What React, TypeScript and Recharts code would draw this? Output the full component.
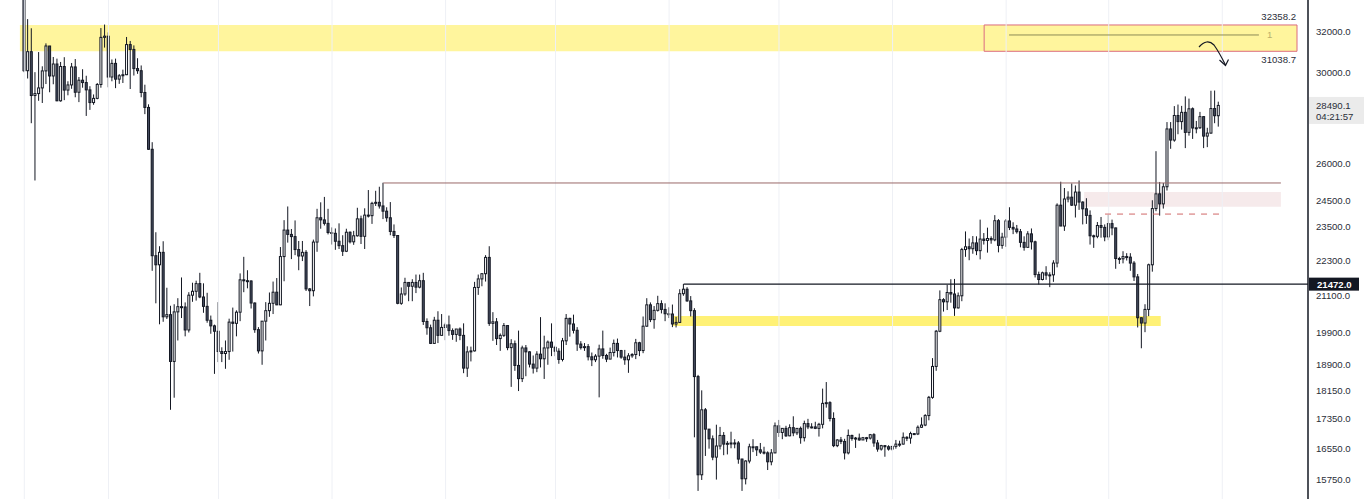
import React from 'react';
import { ComposedChart, Bar, XAxis, YAxis, ReferenceLine, ReferenceArea } from 'recharts';

type Ohlc = [number, number, number, number];

// daily candles, open / high / low / close, one array per month (May 9 2022 onwards)
const may22: Ohlc[] = [
  [34060, 34240, 30030, 30100], [30100, 32660, 29730, 31020], [31020, 32190, 27700, 28940], [28940, 30030, 25300, 29030],
  [29030, 31000, 28700, 29290], [29290, 30310, 28600, 30090], [30090, 31430, 29470, 31300], [31300, 31300, 29090, 29850],
  [29850, 30760, 29460, 30420], [30420, 30680, 28680, 28700], [28700, 30520, 28660, 30300], [30300, 30750, 28730, 29190],
  [29190, 29600, 28950, 29430], [29430, 30470, 29250, 30280], [30280, 30660, 28860, 29090], [29090, 29800, 28640, 29650],
  [29650, 30170, 29300, 29540], [29540, 29860, 28020, 29200], [29200, 29370, 28290, 28620], [28620, 28990, 28520, 28810],
  [28810, 29520, 28770, 29450], [29450, 32200, 29300, 31730], [31730, 32380, 31220, 31790],
];
const jun22: Ohlc[] = [
  [31790, 31980, 29320, 29800], [29800, 30640, 29600, 30450], [30450, 30680, 29280, 29700], [29700, 29940, 29480, 29860],
  [29860, 30150, 29520, 29910], [29910, 31750, 29890, 31370], [31370, 31550, 29240, 31130], [31130, 31330, 29870, 30200],
  [30200, 30700, 29950, 30100], [30100, 30350, 28860, 29080], [29080, 29440, 28100, 28400], [28400, 28540, 26560, 26580],
  [26580, 26880, 21930, 22460], [22460, 23310, 20830, 22140], [22140, 22800, 20150, 22580], [22580, 22980, 20230, 20390],
  [20390, 21350, 20320, 20460], [20460, 20750, 17600, 19000], [19000, 20800, 17940, 20550], [20550, 21000, 19640, 20720],
  [20720, 21700, 20350, 20710], [20710, 20860, 19770, 19970], [19970, 21200, 19890, 21100], [21100, 21520, 20880, 21230],
  [21230, 21590, 20920, 21490], [21490, 21860, 21000, 21040], [21040, 21500, 20520, 20730], [20730, 21180, 20200, 20280],
  [20280, 20430, 19850, 20100], [20100, 20140, 18630, 19930],
];
const jul22: Ohlc[] = [
  [19930, 20870, 18980, 19300], [19300, 19430, 18980, 19240], [19240, 19640, 18780, 19300], [19300, 20330, 19050, 20220],
  [20220, 20690, 19300, 20180], [20180, 20600, 19770, 20540], [20540, 21840, 20250, 21620], [21620, 22420, 21200, 21590],
  [21590, 21950, 21330, 21580], [21580, 21600, 20660, 20840], [20840, 20860, 19880, 19980], [19980, 20060, 19240, 19320],
  [19320, 20250, 18900, 20250], [20250, 20870, 19640, 20590], [20590, 21190, 20390, 20830], [20830, 21560, 20480, 21200],
  [21200, 21680, 20770, 20780], [20780, 22770, 20770, 22430], [22430, 23760, 21570, 23390], [23390, 24280, 22930, 23230],
  [23230, 23430, 22340, 23150], [23150, 23750, 22480, 22680], [22680, 22990, 21950, 22450], [22450, 22990, 22270, 22580],
  [22580, 22660, 21240, 21310], [21310, 21340, 20740, 21250], [21250, 23040, 21060, 22950], [22950, 24190, 22600, 23850],
  [23850, 24440, 23440, 23770], [23770, 24650, 23560, 23640], [23640, 24190, 23230, 23300],
];
const aug22: Ohlc[] = [
  [23300, 23490, 22860, 23270], [23270, 23450, 22670, 22980], [22980, 23640, 22700, 22820], [22820, 23200, 22450, 22620],
  [22620, 23440, 22590, 23310], [23310, 23340, 22900, 22960], [22960, 23360, 22850, 23180], [23180, 24230, 23150, 23810],
  [23810, 23930, 22880, 23160], [23160, 24210, 22700, 23950], [23950, 24920, 23860, 23930], [23930, 24460, 23620, 24400],
  [24400, 24890, 24300, 24440], [24440, 25050, 24200, 24300], [24300, 25210, 23800, 24100], [24100, 24250, 23700, 23850],
  [23850, 24450, 23200, 23340], [23340, 23600, 23100, 23190], [23190, 23200, 20800, 20830], [20830, 21360, 20780, 21140],
  [21140, 21690, 21080, 21530], [21530, 21530, 20900, 21400], [21400, 21640, 20900, 21530], [21530, 21800, 21170, 21370],
  [21370, 21800, 21330, 21590], [21590, 21860, 20130, 20240], [20240, 20340, 19820, 20040], [20040, 20140, 19530, 19550],
  [19550, 20390, 19550, 20280], [20280, 20570, 19560, 19800], [19800, 20480, 19800, 20050],
];
const sep22: Ohlc[] = [
  [20050, 20200, 19650, 20130], [20130, 20430, 19790, 19950], [19950, 20020, 19660, 19830], [19830, 20000, 19600, 20000],
  [20000, 20050, 19650, 19800], [19800, 20180, 18650, 18800], [18800, 19460, 18540, 19290], [19290, 19450, 19000, 19320],
  [19320, 21550, 19300, 21360], [21360, 21800, 21110, 21650], [21650, 21850, 21400, 21830], [21830, 22480, 21560, 22400],
  [22400, 22800, 20100, 20180], [20180, 20540, 19630, 20230], [20230, 20350, 19500, 19700], [19700, 19860, 19320, 19800],
  [19800, 20190, 19750, 20110], [20110, 20110, 19340, 19420], [19420, 19680, 18250, 19540], [19540, 19640, 18720, 18880],
  [18880, 19950, 18130, 18490], [18490, 19480, 18390, 19410], [19410, 19500, 18560, 19290], [19290, 19310, 18820, 18920],
  [18920, 19180, 18640, 18800], [18800, 19310, 18680, 19220], [19220, 20380, 18820, 19080], [19080, 19790, 18480, 19410],
  [19410, 19640, 18900, 19590], [19590, 20180, 19160, 19430],
];
const oct22: Ohlc[] = [
  [19430, 19480, 19160, 19310], [19310, 19400, 18930, 19060], [19060, 19720, 19000, 19630], [19630, 20480, 19500, 20340],
  [20340, 20360, 19760, 20160], [20160, 20460, 19860, 19960], [19960, 20060, 19320, 19530], [19530, 19620, 19360, 19420],
  [19420, 19560, 19320, 19450], [19450, 19530, 19030, 19140], [19140, 19270, 18860, 19050], [19050, 19220, 18980, 19160],
  [19160, 19510, 17950, 19380], [19380, 19950, 19080, 19180], [19180, 19230, 18980, 19070], [19070, 19420, 19070, 19270],
  [19270, 19670, 19150, 19550], [19550, 19700, 19120, 19330], [19330, 19350, 19080, 19130], [19130, 19350, 18900, 19050],
  [19050, 19250, 18660, 19170], [19170, 19250, 19110, 19210], [19210, 19690, 19070, 19570], [19570, 19600, 19160, 19330],
  [19330, 20400, 19250, 20090], [20090, 21000, 20070, 20780], [20780, 20860, 20220, 20300], [20300, 20740, 20010, 20600],
  [20600, 21080, 20560, 20820], [20820, 20930, 20500, 20630], [20630, 20830, 20250, 20490],
];
const nov22: Ohlc[] = [
  [20490, 20700, 20350, 20480], [20480, 20790, 20060, 20160], [20160, 20390, 20050, 20210], [20210, 21300, 20190, 21150],
  [21150, 21480, 21080, 21300], [21300, 21370, 20880, 20910], [20910, 21070, 20400, 20590], [20590, 20670, 16850, 18550],
  [18550, 18600, 15480, 15880], [15880, 18150, 15750, 17600], [17600, 17650, 16360, 17070], [17070, 17070, 16550, 16810],
  [16810, 16900, 16250, 16330], [16330, 17190, 15760, 16620], [16620, 17130, 16530, 16900], [16900, 16990, 16380, 16670],
  [16670, 16750, 16400, 16690], [16690, 17000, 16560, 16700], [16700, 16800, 16560, 16700], [16700, 16750, 16160, 16280],
  [16280, 16290, 15480, 15780], [15780, 16250, 15640, 16230], [16230, 16680, 16170, 16600], [16600, 16800, 16460, 16600],
  [16600, 16600, 16360, 16520], [16520, 16700, 16410, 16460], [16460, 16600, 16400, 16440], [16440, 16480, 16000, 16210],
  [16210, 16540, 16120, 16440], [16440, 17250, 16430, 17160],
];
const dec22: Ohlc[] = [
  [17160, 17320, 16860, 16980], [16980, 17100, 16800, 17090], [17090, 17160, 16860, 16890], [16890, 17200, 16880, 17110],
  [17110, 17420, 16880, 16970], [16970, 17100, 16910, 17090], [17090, 17140, 16680, 16840], [16840, 17300, 16740, 17220],
  [17220, 17350, 17070, 17130], [17130, 17230, 17090, 17130], [17130, 17270, 17070, 17090], [17090, 17240, 16870, 17200],
  [17200, 18200, 17090, 17780], [17780, 18390, 17660, 17800], [17800, 17840, 17280, 17360], [17360, 17530, 16590, 16630],
  [16630, 16800, 16590, 16780], [16780, 16860, 16670, 16740], [16740, 16810, 16270, 16440], [16440, 17060, 16400, 16900],
  [16900, 16920, 16760, 16820], [16820, 16860, 16570, 16830], [16830, 16950, 16760, 16780], [16780, 16860, 16780, 16840],
  [16840, 16860, 16730, 16830], [16830, 16940, 16790, 16920], [16920, 16960, 16600, 16700], [16700, 16780, 16470, 16540],
  [16540, 16650, 16500, 16630], [16630, 16640, 16340, 16600], [16600, 16640, 16500, 16540],
];
const jan23: Ohlc[] = [
  [16540, 16620, 16500, 16610], [16610, 16780, 16550, 16670], [16670, 16760, 16600, 16670], [16670, 16980, 16660, 16850],
  [16850, 16880, 16750, 16830], [16830, 17000, 16680, 16950], [16950, 16960, 16910, 16940], [16940, 17170, 16910, 17120],
  [17120, 17390, 17100, 17180], [17180, 17480, 17150, 17440], [17440, 17990, 17310, 17950], [17950, 19100, 17910, 18850],
  [18850, 19970, 18720, 19930], [19930, 21260, 19900, 20950], [20950, 21000, 20560, 20880], [20880, 21450, 20610, 21190],
  [21190, 21640, 20850, 21140], [21140, 21650, 20420, 20680], [20680, 21190, 20660, 21080], [21080, 22740, 20900, 22680],
  [22680, 23340, 22420, 22780], [22780, 23080, 22300, 22710], [22710, 23170, 22530, 22920], [22920, 23160, 22480, 22640],
  [22640, 23780, 22330, 23060], [23060, 23280, 22860, 23010], [23010, 23480, 22570, 23080], [23080, 23160, 22890, 23030],
  [23030, 23950, 22980, 23740], [23740, 23800, 22580, 22830], [22830, 23290, 22710, 23130],
];
const feb23: Ohlc[] = [
  [23130, 23800, 22780, 23730], [23730, 24250, 23390, 23490], [23490, 23680, 23240, 23430], [23430, 23580, 23260, 23330],
  [23330, 23430, 22760, 22940], [22940, 23160, 22640, 22760], [22760, 23350, 22750, 23250], [23250, 23450, 22680, 22960],
  [22960, 23000, 21700, 21800], [21800, 21900, 21460, 21630], [21630, 21900, 21600, 21860], [21860, 22090, 21620, 21780],
  [21780, 21880, 21370, 21790], [21790, 22300, 21550, 22200], [22200, 24400, 22050, 24330], [24330, 25250, 23540, 23540],
  [23540, 25000, 23360, 24570], [24570, 24870, 24440, 24640], [24640, 25180, 24300, 24330], [24330, 25100, 23860, 24840],
  [24840, 25300, 24150, 24450], [24450, 24480, 23600, 24190], [24190, 24600, 23620, 23940], [23940, 24130, 22860, 23180],
  [23180, 23220, 22740, 23160], [23160, 23690, 23090, 23560], [23560, 23880, 23110, 23490], [23490, 23600, 22980, 23140],
];
const mar23: Ohlc[] = [
  [23140, 23960, 23020, 23630], [23630, 23780, 23200, 23470], [23470, 23480, 22000, 22360], [22360, 22420, 22170, 22350],
  [22350, 22620, 22190, 22430], [22430, 22550, 22290, 22410], [22410, 22550, 21930, 22200], [22200, 22270, 21580, 21720],
  [21720, 21820, 20050, 20360], [20360, 20370, 19400, 20190], [20190, 20800, 19900, 20630], [20630, 22180, 20410, 22140],
  [22140, 24520, 21900, 24200], [24200, 26500, 24100, 24770], [24770, 25240, 23930, 24380], [24380, 25200, 24200, 25050],
  [25050, 27750, 24900, 27450], [27450, 27750, 26600, 26970], [26970, 28460, 26900, 28040], [28040, 28530, 27220, 27770],
  [27770, 28470, 27420, 28180], [28180, 28900, 26630, 27300], [27300, 28800, 27160, 28340], [28340, 28400, 27020, 27490],
  [27490, 27800, 27260, 27500], [27500, 28200, 27450, 27990], [27990, 28000, 26630, 27140], [27140, 27500, 26670, 27270],
  [27270, 29160, 27240, 28350], [28350, 29170, 27700, 28030], [28030, 28660, 27550, 28490.1],
];

const months = [may22, jun22, jul22, aug22, sep22, oct22, nov22, dec22, jan23, feb23, mar23];

// right price scale
const priceTicks = [32000, 30000, 26000, 24500, 23500, 22300, 21100, 19900, 18900, 18150, 17350, 16550, 15750];
const lastPrice = 28490.1;
const countdown = '04:21:57';
const markedLevel = 21472;

// drawn levels
const topZone = [31038.7, 32358.2];
const boxMid = 31850;
const rangeHigh = 25200;
const supplyZone = [24268, 24843];
const dashedLevel = 23990;
const demandZone = [20097, 20416];

const candles = months.flat().map(([open, high, low, close], i) => ({ i, open, high, low, close, range: [low, high] }));

const monthStarts = months.reduce<number[]>((acc, m) => [...acc, acc[acc.length - 1] + m.length], [0]);

const INK = '#131722';
const BEAR = '#464d60';
const FONT = '"Liberation Sans", Arial, sans-serif';

const Candle = (props: any) => {
  const { x, y, width, height, payload } = props;
  if (!payload) return null;
  const { open, high, low, close } = payload;
  const cx = x + width / 2;
  const top = Math.min(y, y + height);
  const bottom = Math.max(y, y + height);
  const span = Math.log(high) - Math.log(low);
  const toY = (v: number) => (span === 0 ? top : top + ((Math.log(high) - Math.log(v)) / span) * (bottom - top));
  const yo = toY(open);
  const yc = toY(close);
  const bodyTop = Math.min(yo, yc);
  const bodyH = Math.max(Math.abs(yo - yc), 1);
  const up = close >= open;
  return (
    <g>
      <line x1={cx} x2={cx} y1={top} y2={bottom} stroke={INK} strokeWidth={1} />
      <rect x={cx - 1} y={bodyTop} width={2} height={bodyH} fill={up ? '#ffffff' : BEAR} stroke={INK} strokeWidth={1} />
    </g>
  );
};

const PriceTick = (props: any) => {
  const { x, y, payload } = props;
  const v = payload.value as number;
  const common = { fontFamily: FONT, fontSize: 9.6 };
  if (v === lastPrice) {
    return (
      <g>
        <rect x={x - 7} y={y - 8.5} width={56} height={27} fill="#ebebeb" />
        <text x={x} y={y} dy="0.35em" fill="#2a2e39" {...common}>{v.toFixed(1)}</text>
        <text x={x} y={y + 11} dy="0.35em" fill="#2a2e39" {...common}>{countdown}</text>
      </g>
    );
  }
  if (v === markedLevel) {
    return (
      <g>
        <rect x={x - 7} y={y - 6.5} width={50} height={13} fill={INK} />
        <text x={x + 1} y={y} dy="0.35em" fill="#ffffff" fontWeight="bold" {...common}>{v.toFixed(1)}</text>
      </g>
    );
  }
  return (
    <text x={x} y={y} dy="0.35em" fill="#2a2e39" {...common}>{v.toFixed(1)}</text>
  );
};

const App: React.FC = () => {
  return (
    <div style={{ position: 'relative', width: 1364, height: 499, background: '#fff' }}>
      <style>{'body{margin:0;}'}</style>
      <ComposedChart width={1364} height={499} data={candles} margin={{ top: 0, right: 0, bottom: 0, left: 0 }}>
        <XAxis type="number" dataKey="i" domain={[-6.633, 350.4]} allowDataOverflow hide />
        <YAxis
          orientation="right"
          scale="log"
          domain={[15283, 33663]}
          allowDataOverflow
          ticks={[...priceTicks, markedLevel, lastPrice]}
          interval={0}
          width={56}
          tickLine={false}
          axisLine={{ stroke: INK, strokeWidth: 1.5 }}
          tick={<PriceTick />}
        />
        {monthStarts.map((m) => (
          <ReferenceLine key={m} x={m} stroke="#eef0f5" strokeWidth={1} />
        ))}
        <ReferenceArea x1={-1.2} x2={262} y1={topZone[0]} y2={topZone[1]} fill="#fff59d" fillOpacity={1} stroke="none" />
        <ReferenceArea
          x1={262}
          x2={347.4}
          y1={topZone[0]}
          y2={topZone[1]}
          fill="#fff59d"
          fillOpacity={1}
          stroke="#dc6b7e"
          strokeWidth={1}
          label={(p: any) => {
            const vb = p.viewBox;
            return (
              <g fontFamily={FONT} fontSize={9.6} fill="#2a2e39">
                <text x={vb.x + vb.width - 1} y={vb.y - 8.5} dy="0.35em" textAnchor="end">{topZone[1].toFixed(1)}</text>
                <text x={vb.x + vb.width - 1} y={vb.y + vb.height + 8.5} dy="0.35em" textAnchor="end">{topZone[0].toFixed(1)}</text>
              </g>
            );
          }}
        />
        <ReferenceLine
          segment={[{ x: 268.8, y: boxMid }, { x: 337, y: boxMid }]}
          stroke="#8d8a55"
          strokeWidth={1}
          label={(p: any) => {
            const vb = p.viewBox;
            return (
              <text x={vb.x + vb.width + 8} y={vb.y} dy="0.35em" fontFamily={FONT} fontSize={9.6} fill="#b9b06c">1</text>
            );
          }}
        />
        <ReferenceArea x1={289.3} x2={343} y1={supplyZone[0]} y2={supplyZone[1]} fill="#f6eaeb" fillOpacity={1} stroke="none" />
        <ReferenceArea x1={177} x2={310.2} y1={demandZone[0]} y2={demandZone[1]} fill="#fff176" fillOpacity={1} stroke="none" />
        <ReferenceLine segment={[{ x: 98, y: rangeHigh }, { x: 343, y: rangeHigh }]} stroke="#9a6868" strokeWidth={1} />
        <ReferenceLine segment={[{ x: 295, y: dashedLevel }, { x: 326.3, y: dashedLevel }]} stroke="#d06868" strokeWidth={1} strokeDasharray="6 6" />
        <ReferenceLine segment={[{ x: 180, y: markedLevel }, { x: 350.4, y: markedLevel }]} stroke={INK} strokeWidth={1.3} />
        <Bar dataKey="range" barSize={3} shape={<Candle />} isAnimationActive={false} />
      </ComposedChart>
      <svg width={1364} height={499} style={{ position: 'absolute', left: 0, top: 0, pointerEvents: 'none' }}>
        <path d="M1199 47 Q1207 38 1214 45 Q1219 52 1225.5 65" fill="none" stroke={INK} strokeWidth={1.2} />
        <path d="M1219.5 60 L1225.5 65.5 L1228.5 59.5" fill="none" stroke={INK} strokeWidth={1.2} />
      </svg>
    </div>
  );
};

export default App;
